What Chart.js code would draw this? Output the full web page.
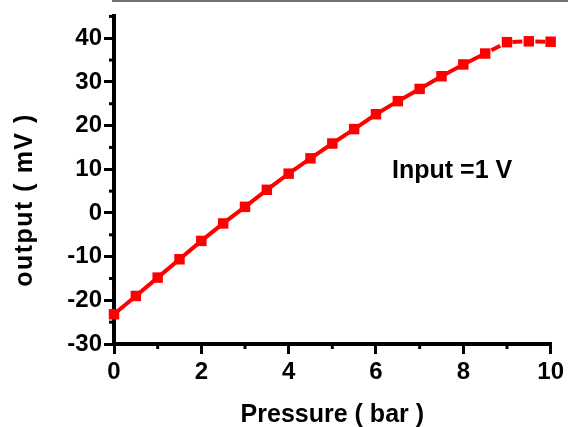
<!DOCTYPE html>
<html>
<head>
<meta charset="utf-8">
<script src="https://cdn.jsdelivr.net/npm/chart.js@4/dist/chart.umd.min.js"></script>
<style>
  html, body { margin: 0; padding: 0; background: #fff; }
  #wrap { width: 568px; height: 427px; }
</style>
</head>
<body>
<div id="wrap"><canvas id="chart" width="568" height="427"></canvas></div>
<script>
// data
const pressure = [0, 0.5, 1, 1.5, 2, 2.5, 3, 3.5, 4, 4.5, 5, 5.5, 6, 6.5, 7, 7.5, 8, 8.5, 9, 9.5, 10];
const output = [-23.2, -19.0, -14.8, -10.6, -6.4, -2.4, 1.4, 5.3, 9.0, 12.5, 15.9, 19.2, 22.6, 25.6, 28.4, 31.3, 34.0, 36.5, 39.1, 39.3, 39.2];
const yTicks = [-30, -20, -10, 0, 10, 20, 30, 40];
const yMinorTicks = [-25, -15, -5, 5, 15, 25, 35, 45];
const xTicks = [0, 2, 4, 6, 8, 10];
const xMinorTicks = [1, 3, 5, 7, 9];
const dashFrom = 8.5; // segments after this pressure are drawn dashed
const yTitle = 'output ( mV )';
const xTitle = 'Pressure ( bar )';
const note = 'Input =1 V';

Chart.defaults.font.family = '"Liberation Sans", Arial, sans-serif';
Chart.defaults.color = '#000';

// minor ticks, y axis title, inline note and the thin top rule
const extras = {
    id: 'extras',
    afterDraw(chart) {
        const ctx = chart.ctx;
        const xs = chart.scales.x;
        const ys = chart.scales.y;
        const area = chart.chartArea;
        ctx.save();
        ctx.strokeStyle = '#000';
        ctx.lineWidth = 3;
        yMinorTicks.forEach(v => {
            const y = ys.getPixelForValue(v);
            ctx.beginPath();
            ctx.moveTo(area.left - 5, y);
            ctx.lineTo(area.left, y);
            ctx.stroke();
        });
        xMinorTicks.forEach(v => {
            const x = xs.getPixelForValue(v);
            ctx.beginPath();
            ctx.moveTo(x, area.bottom);
            ctx.lineTo(x, area.bottom + 5);
            ctx.stroke();
        });

        // thin rule along the top edge
        ctx.strokeStyle = '#444';
        ctx.lineWidth = 1.5;
        ctx.beginPath();
        ctx.moveTo(area.left - 2, 1);
        ctx.lineTo(chart.width, 1);
        ctx.stroke();

        ctx.fillStyle = '#000';
        ctx.font = 'bold 25px "Liberation Sans", Arial, sans-serif';
        ctx.letterSpacing = '1.5px';
        ctx.translate(25, 200);
        ctx.rotate(-Math.PI / 2);
        ctx.textAlign = 'center';
        ctx.textBaseline = 'middle';
        ctx.fillText(yTitle, 0, 0);
        ctx.restore();

        ctx.save();
        ctx.fillStyle = '#000';
        ctx.font = 'bold 25px "Liberation Sans", Arial, sans-serif';
        ctx.textAlign = 'left';
        ctx.textBaseline = 'alphabetic';
        ctx.fillText(note, 392, 178);
        ctx.restore();
    }
};

new Chart(document.getElementById('chart'), {
    type: 'line',
    data: {
        datasets: [{
            data: pressure.map((p, i) => ({ x: p, y: output[i] })),
            borderColor: '#ff0000',
            backgroundColor: '#ff0000',
            borderWidth: 4,
            pointStyle: 'rect',
            pointRadius: 7.4,
            pointHoverRadius: 7.4,
            pointBorderWidth: 0,
            tension: 0,
            clip: false,
            segment: {
                borderDash: ctx => ctx.p0.parsed.x >= dashFrom ? [10, 13] : undefined,
                borderDashOffset: ctx => ctx.p0.parsed.x >= dashFrom ? 16 : 0
            }
        }]
    },
    options: {
        responsive: false,
        animation: false,
        events: [],
        layout: { padding: { top: 12, right: 17, left: 0, bottom: 0 } },
        plugins: {
            legend: { display: false },
            tooltip: { enabled: false }
        },
        scales: {
            x: {
                type: 'linear',
                min: 0,
                max: 10,
                afterFit: scale => { scale.height = 83; },
                afterBuildTicks: scale => { scale.ticks = xTicks.map(v => ({ value: v })); },
                grid: { drawOnChartArea: false, drawTicks: true, tickLength: 10, color: '#000', lineWidth: 3 },
                border: { color: '#000', width: 4 },
                ticks: { font: { size: 24, weight: 'bold' }, padding: 4, maxRotation: 0 },
                title: { display: true, text: xTitle, font: { size: 25, weight: 'bold' }, padding: { top: 3, bottom: -3 } }
            },
            y: {
                type: 'linear',
                min: -30,
                max: 45,
                afterFit: scale => { scale.width = 114; },
                afterBuildTicks: scale => { scale.ticks = yTicks.map(v => ({ value: v })); },
                grid: { drawOnChartArea: false, drawTicks: true, tickLength: 10, color: '#000', lineWidth: 3 },
                border: { color: '#000', width: 4 },
                ticks: { font: { size: 24, weight: 'bold' }, padding: 2 }
            }
        }
    },
    plugins: [extras]
});
</script>
</body>
</html>
